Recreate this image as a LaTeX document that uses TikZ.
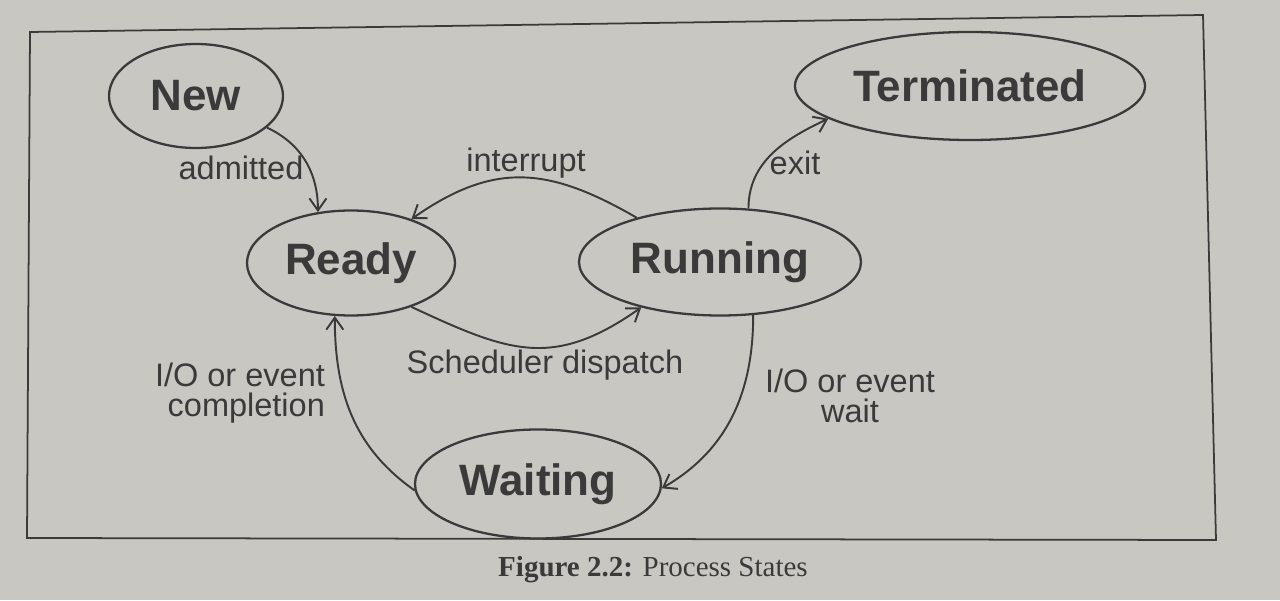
\documentclass[tikz,border=0pt]{standalone}
\usepackage{fontspec}
\setmainfont{Liberation Sans}
\newfontfamily\captionfont{Liberation Serif}
\usetikzlibrary{arrows,arrows.meta,shapes}
\usepackage{xcolor}
\definecolor{paper}{RGB}{200,199,194}
\definecolor{ink}{RGB}{58,58,58}

\begin{document}
\begin{tikzpicture}[
    >={Straight Barb[length=2.4mm, width=3.4mm]},
    state/.style={
        ellipse,
        draw=ink,
        line width=1.3pt,
        inner sep=0pt,
        text=ink,
        font=\fontsize{25}{29}\selectfont\bfseries
    },
    tag/.style={
        text=ink,
        inner sep=1pt,
        font=\fontsize{18.5}{17}\selectfont
    }
]
    \fill[paper] (0,0) rectangle (25.6,12);
    \useasboundingbox (0,0) rectangle (25.6,12);

    % frame
    \coordinate (frame_nw) at (0.6,11.36);
    \coordinate (frame_ne) at (24.06,11.7);
    \coordinate (frame_se) at (24.32,1.2);
    \coordinate (frame_sw) at (0.54,1.24);
    \draw[ink, line width=1pt] (frame_nw) -- (frame_ne) -- (frame_se) -- (frame_sw) -- cycle;

    \node (new) [state, minimum width=3.48cm, minimum height=2.08cm, shift={(3.92, 10.08)}]
    {
        New
    };
    \node (terminated) [state, minimum width=7cm, minimum height=2.16cm, shift={(19.4, 10.28)}]
    {
        Terminated
    };
    \node (ready) [state, minimum width=4.16cm, minimum height=2.1cm, shift={(7.02, 6.74)}]
    {
        Ready
    };
    \node (running) [state, minimum width=5.64cm, minimum height=2.14cm, shift={(14.4, 6.76)}]
    {
        Running
    };
    \node (waiting) [state, minimum width=4.92cm, minimum height=2.18cm, shift={(10.76, 2.32)}]
    {
        Waiting
    };

    \node (admitted) [tag, shift={(4.82, 8.64)}]
    {
        admitted
    };
    \node (interrupt) [tag, shift={(10.52, 8.74)}]
    {
        interrupt
    };
    \node (exit) [tag, shift={(15.9, 8.74)}]
    {
        exit
    };
    \node (dispatch) [tag, shift={(10.9, 4.7)}]
    {
        Scheduler dispatch
    };
    \node (io_completion) [tag, align=right, anchor=east, shift={(6.54, 4.14)}]
    {
        I/O or event\\completion
    };
    \node (io_wait) [tag, align=center, shift={(17.0, 4.08)}]
    {
        I/O or event\\wait
    };

    \node (caption) [text=ink, font={\captionfont\fontsize{16.5}{18}\selectfont}, shift={(13.06, 0.6)}]
    {
        \textbf{Figure 2.2:} Process States
    };

    \draw[->, ink, line width=1.1pt] (new.-24) to[out=-25, in=90] (ready.123);
    \draw[->, ink, line width=1.1pt] (running.152) to[out=150, in=35, looseness=1.15] (ready.36);
    \draw[->, ink, line width=1.1pt] (ready.-36) to[out=-25, in=-145, looseness=1.2] (running.-150);
    \draw[->, ink, line width=1.1pt] (running.62) to[out=90, in=-155] (terminated.-167);
    \draw[->, ink, line width=1.1pt] (running.-58) to[out=-90, in=30] (waiting.-2);
    \draw[->, ink, line width=1.1pt] (waiting.183) to[out=145, in=-90] (ready.-107);

\end{tikzpicture}
\end{document}
